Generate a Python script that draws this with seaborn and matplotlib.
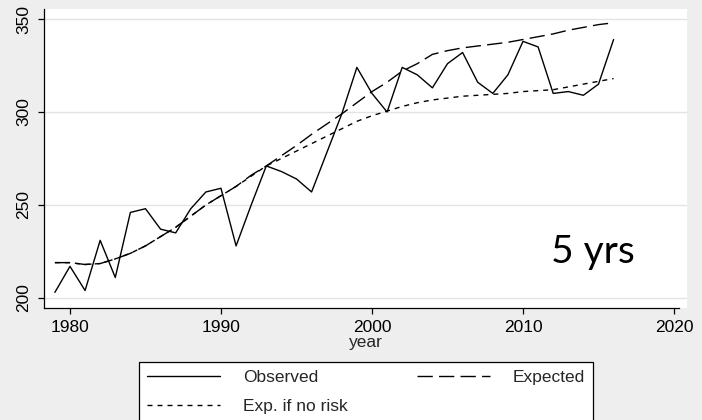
import numpy as np
import pandas as pd
import matplotlib
matplotlib.use("Agg")
import matplotlib.pyplot as plt
import seaborn as sns

# Annual series, 1979-2016
years = list(range(1979, 2017))
observed = [203, 217, 204, 231, 211, 246, 248, 237, 235, 248,
            257, 259, 228, 250, 271, 268, 264, 257, 278, 299,
            324, 310, 300, 324, 320, 313, 326, 332, 316, 310,
            320, 338, 335, 310, 311, 309, 315, 339]
expected = [219, 219, 218, 218.5, 221, 224, 228, 233, 238, 244,
            250, 255, 260, 266, 271, 276.5, 282, 288, 293.5, 299,
            305, 311, 316, 322, 326, 331, 333, 334.5, 335.5, 336.5,
            337.5, 339, 340.5, 342, 344, 345.5, 347, 348]
no_risk = [219, 219, 218, 218.5, 221, 224, 228, 233, 238, 244,
           250, 255, 260, 265.5, 271, 275, 279, 283, 287, 291,
           295, 298, 300.5, 303, 305, 306.5, 307.5, 308.5, 309, 309.5,
           310, 311, 311.5, 312, 313.5, 315, 316.5, 318]

df = pd.DataFrame({"year": years, "Observed": observed,
                   "Expected": expected, "Exp. if no risk": no_risk})

sns.set_theme(style="white")
plt.rcParams["font.family"] = ["Liberation Sans", "DejaVu Sans"]

bg = "#eeeeee"
fig = plt.figure(figsize=(7.02, 4.2), dpi=100, facecolor=bg)
ax = fig.add_axes([44 / 702, 1 - 308 / 420, 643 / 702, 299 / 420])
ax.set_facecolor("white")

lw = 1.0
sns.lineplot(data=df, x="year", y="Observed", ax=ax, color="black",
             linewidth=lw, linestyle="-", label="Observed")
sns.lineplot(data=df, x="year", y="Expected", ax=ax, color="black",
             linewidth=lw, linestyle=(0, (11, 4.5)), label="Expected")
sns.lineplot(data=df, x="year", y="Exp. if no risk", ax=ax, color="black",
             linewidth=lw, linestyle=(0, (3.6, 3.6)), label="Exp. if no risk")

ax.set_xlim(1978.28, 2020.86)
ax.set_ylim(194.6, 355.4)
ax.set_xticks([1980, 1990, 2000, 2010, 2020])
ax.set_yticks([200, 250, 300, 350])
ax.yaxis.grid(True, color="#e3e3e3", linewidth=1.0)
ax.xaxis.grid(False)

for s in ["top", "right"]:
    ax.spines[s].set_visible(False)
for s in ["left", "bottom"]:
    ax.spines[s].set_color("black")
    ax.spines[s].set_linewidth(0.9)
ax.spines["bottom"].set_bounds(1978.28, 2020.3)

ax.tick_params(axis="both", which="major", direction="out", length=4,
               width=0.9, color="black", labelsize=12.5, labelcolor="black",
               bottom=True, left=True)
ax.tick_params(axis="x", pad=5)
ax.tick_params(axis="y", pad=5)
for lab in ax.get_yticklabels():
    lab.set_rotation(90)
    lab.set_va("center")

ax.set_xlabel("year", fontsize=12.5, labelpad=0)
ax.set_ylabel("")

ax.text(0.854, 0.187, "5 yrs", transform=ax.transAxes, ha="center",
        va="center", fontsize=28, family=["Lato", "DejaVu Sans"],
        color="black")

handles, labels = ax.get_legend_handles_labels()
ax.get_legend().remove()
order = [0, 2, 1]
leg = fig.legend([handles[i] for i in order], [labels[i] for i in order],
                 loc="upper center", bbox_to_anchor=(366 / 702, 1 - 362 / 420),
                 ncol=2, frameon=True, fancybox=False, fontsize=12.5,
                 handlelength=4.2, handletextpad=1.3, columnspacing=4.0,
                 labelspacing=0.8, borderpad=0.45, borderaxespad=0)
frame = leg.get_frame()
frame.set_edgecolor("black")
frame.set_linewidth(0.9)
frame.set_facecolor("white")
frame.set_alpha(1)

fig.savefig("out.png", dpi=100, facecolor=bg)
